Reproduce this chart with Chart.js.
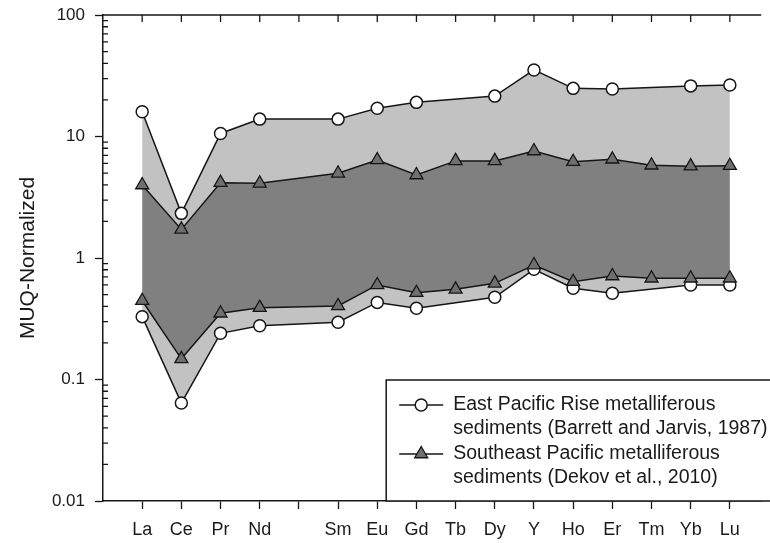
<!DOCTYPE html>
<html>
<head>
<meta charset="utf-8">
<script src="https://cdn.jsdelivr.net/npm/chart.js@4.4.1/dist/chart.umd.min.js"></script>
<style>
  html, body { margin: 0; padding: 0; background: #fff; }
  #wrap { width: 770px; height: 543px; }
</style>
</head>
<body>
<div id="wrap"><canvas id="ree" width="770" height="543"></canvas></div>
<script>
// REE patterns, MUQ-normalized ('' = Pm slot, no data)
const elements = ['La', 'Ce', 'Pr', 'Nd', '', 'Sm', 'Eu', 'Gd', 'Tb', 'Dy', 'Y', 'Ho', 'Er', 'Tm', 'Yb', 'Lu'];

// East Pacific Rise (Barrett and Jarvis, 1987) - envelope
const eprMax = [16.0, 2.33, 10.6, 13.9, null, 13.9, 17.1, 19.1, null, 21.5, 35.3, 24.9, 24.6, null, 26.1, 26.5];
const eprMin = [0.329, 0.064, 0.240, 0.277, null, 0.296, 0.431, 0.386, null, 0.475, 0.807, 0.564, 0.512, null, 0.600, 0.600];

// Southeast Pacific (Dekov et al., 2010) - envelope
const sepMax = [3.99, 1.72, 4.17, 4.12, null, 4.98, 6.41, 4.82, 6.3, 6.3, 7.6, 6.2, 6.5, 5.8, 5.7, 5.75];
const sepMin = [0.445, 0.148, 0.351, 0.390, null, 0.403, 0.60, 0.518, 0.552, 0.619, 0.875, 0.638, 0.711, 0.681, 0.681, 0.681];

const yMajor = [0.01, 0.1, 1, 10, 100];
const yLabels = ['0.01', '0.1', '1', '10', '100'];

const legendRows = [
  ['East Pacific Rise metalliferous', 'sediments (Barrett and Jarvis, 1987)'],
  ['Southeast Pacific metalliferous', 'sediments (Dekov et al., 2010)'],
];

const INK = '#161616';
const LIGHT = '#c2c2c2';
const DARK = '#808080';
const TRI = '#6f6f6f';
const FONT = '"Liberation Sans", Arial, sans-serif';

// minor log ticks 2..9 in every decade
const yMinor = [];
yMajor.slice(0, -1).forEach((d) => {
  for (let k = 2; k <= 9; k++) yMinor.push(+(d * k).toPrecision(2));
});
const yTicks = [...yMajor, ...yMinor].sort((a, b) => a - b);

const pts = (arr) => arr.map((v, i) => (v == null ? null : { x: i, y: v })).filter(Boolean);

const circle = { pointStyle: 'circle', pointRadius: 6, pointBackgroundColor: '#fff', pointBorderColor: INK, pointBorderWidth: 1.5 };
const tri = { pointStyle: 'triangle', pointRadius: 7.5, pointBackgroundColor: TRI, pointBorderColor: INK, pointBorderWidth: 1.3 };

// top border, inward ticks, legend box
const framePlugin = {
  id: 'frame',
  afterDraw(chart) {
    const { ctx, chartArea: a, scales: { x, y } } = chart;
    ctx.save();
    ctx.strokeStyle = INK;
    ctx.lineWidth = 1.3;
    ctx.beginPath();
    ctx.moveTo(a.left, a.top);
    ctx.lineTo(a.right, a.top);
    x.ticks.forEach((t) => {
      const px = x.getPixelForValue(t.value);
      ctx.moveTo(px, a.top);
      ctx.lineTo(px, a.top + 7);
    });
    yMinor.forEach((v) => {
      const py = y.getPixelForValue(v);
      ctx.moveTo(a.left, py);
      ctx.lineTo(a.left + 5, py);
    });
    ctx.stroke();

    // legend
    const bx = a.right - 375, by = a.bottom - 121;
    ctx.fillStyle = '#fff';
    ctx.fillRect(bx, by, a.right - bx + 5, a.bottom - by);
    ctx.lineWidth = 1.5;
    ctx.strokeRect(bx, by, a.right - bx + 10, a.bottom - by);

    ctx.font = '19.5px ' + FONT;
    ctx.textBaseline = 'middle';
    legendRows.forEach((rows, i) => {
      const ly = by + 25 + i * 49;
      ctx.strokeStyle = INK;
      ctx.lineWidth = 1.5;
      ctx.beginPath();
      ctx.moveTo(bx + 13, ly);
      ctx.lineTo(bx + 57, ly);
      ctx.stroke();
      const st = i === 0 ? circle : tri;
      ctx.fillStyle = st.pointBackgroundColor;
      ctx.lineWidth = st.pointBorderWidth;
      Chart.helpers.drawPoint(ctx, { pointStyle: st.pointStyle, radius: st.pointRadius, borderWidth: st.pointBorderWidth, rotation: 0 }, bx + 35, ly);
      ctx.fillStyle = '#1a1a1a';
      rows.forEach((txt, k) => ctx.fillText(txt, bx + 67, ly + k * 24));
    });
    ctx.restore();
  },
};

new Chart(document.getElementById('ree'), {
  type: 'line',
  data: {
    datasets: [
      { label: 'SEP min', data: pts(sepMin), borderColor: INK, borderWidth: 1.5, fill: false, ...tri },
      { label: 'SEP max', data: pts(sepMax), borderColor: INK, borderWidth: 1.5, fill: { target: 0 }, backgroundColor: DARK, ...tri },
      { label: 'EPR min', data: pts(eprMin), borderColor: INK, borderWidth: 1.5, fill: false, ...circle },
      { label: 'EPR max', data: pts(eprMax), borderColor: INK, borderWidth: 1.5, fill: { target: 2 }, backgroundColor: LIGHT, ...circle },
    ],
  },
  options: {
    responsive: false,
    animation: false,
    devicePixelRatio: 1,
    layout: { padding: { top: 15, right: 0, left: 0, bottom: 0 } },
    elements: { line: { tension: 0 } },
    plugins: { legend: { display: false }, tooltip: { enabled: false } },
    scales: {
      x: {
        type: 'linear',
        min: -1,
        max: 15.8,
        afterFit: (s) => { s.height = 42; s.paddingLeft = 0; s.paddingRight = 0; },
        afterBuildTicks: (s) => { s.ticks = elements.map((_, i) => ({ value: i })); },
        border: { display: true, color: INK, width: 1.5 },
        grid: { drawOnChartArea: false, drawTicks: true, tickLength: 8, color: INK, tickColor: INK, tickWidth: 1.3 },
        ticks: {
          autoSkip: false, maxRotation: 0, padding: 10, color: '#1a1a1a',
          font: { family: FONT, size: 18 },
          callback: (v) => elements[v] ?? '',
        },
      },
      y: {
        type: 'logarithmic',
        min: 0.01,
        max: 100,
        afterFit: (s) => { s.width = 103; s.paddingTop = 0; s.paddingBottom = 0; },
        afterBuildTicks: (s) => { s.ticks = yTicks.map((v) => ({ value: v, major: yMajor.includes(v) })); },
        border: { display: true, color: INK, width: 1.5 },
        grid: {
          drawOnChartArea: false, drawTicks: true, tickLength: 8, tickWidth: 1.3,
          tickColor: (c) => (c.tick && yMajor.includes(c.tick.value) ? INK : 'rgba(0,0,0,0)'),
        },
        ticks: {
          autoSkip: false, padding: 10, color: '#1a1a1a',
          font: { family: FONT, size: 17 },
          callback: (v) => { const i = yMajor.indexOf(v); return i >= 0 ? yLabels[i] : ''; },
        },
        title: {
          display: true, text: 'MUQ-Normalized', color: '#1a1a1a',
          font: { family: FONT, size: 21 },
          padding: { top: 16, bottom: 0 },
        },
      },
    },
  },
  plugins: [framePlugin],
});
</script>
</body>
</html>
